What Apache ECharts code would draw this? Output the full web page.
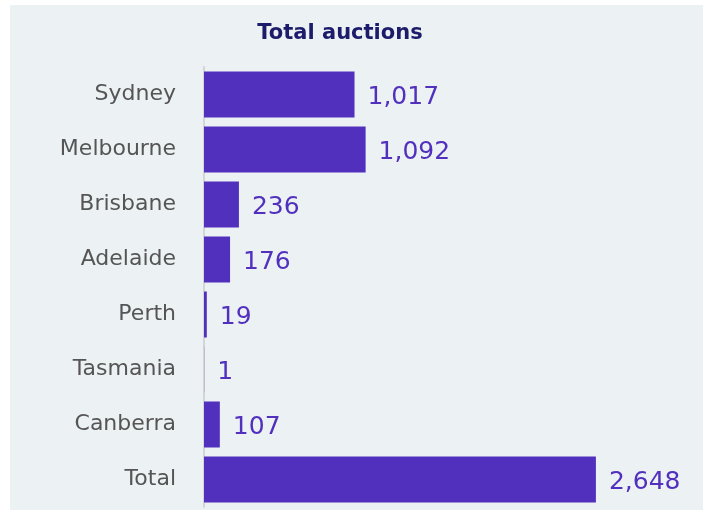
<!DOCTYPE html>
<html>
<head>
<meta charset="utf-8">
<script src="https://cdn.jsdelivr.net/npm/echarts@6/dist/echarts.min.js"></script>
<style>
  html, body { margin: 0; padding: 0; background: #ffffff; }
  #chart { width: 710px; height: 510px; }
</style>
</head>
<body>
<div id="chart"></div>
<script>
// data
const cities = ['Sydney', 'Melbourne', 'Brisbane', 'Adelaide', 'Perth', 'Tasmania', 'Canberra', 'Total'];
const auctions = [1017, 1092, 236, 176, 19, 1, 107, 2648];

const chart = echarts.init(document.getElementById('chart'));

const option = {
    backgroundColor: '#ffffff',
    animation: false,
    graphic: [{
        type: 'rect',
        z: -10,
        shape: { x: 10, y: 5, width: 693, height: 505 },
        style: { fill: '#ecf1f4' }
    }],
    title: {
        text: 'Total auctions',
        left: 335,
        top: 18,
        textAlign: 'center',
        textStyle: {
            fontFamily: 'DejaVu Sans',
            fontSize: 21,
            fontWeight: 'bold',
            color: '#1d1c6b'
        }
    },
    grid: {
        left: 204,
        width: 444,
        top: 67,
        height: 440
    },
    xAxis: {
        type: 'value',
        min: 0,
        max: 3000,
        show: false
    },
    yAxis: {
        type: 'category',
        data: cities,
        inverse: true,
        axisLine: { show: true, lineStyle: { color: '#d3d6d9', width: 2 } },
        axisTick: { show: false },
        axisLabel: {
            margin: 28,
            fontFamily: 'DejaVu Sans',
            fontSize: 22,
            color: '#555555'
        }
    },
    series: [{
        type: 'bar',
        data: auctions,
        barWidth: 46,
        itemStyle: { color: '#5230be' },
        label: {
            show: true,
            position: 'right',
            distance: 13,
            offset: [0, 3],
            fontFamily: 'DejaVu Sans',
            fontSize: 25,
            color: '#5230be',
            formatter: function (p) {
                return p.value.toLocaleString('en-US');
            }
        }
    }]
};

chart.setOption(option);
</script>
</body>
</html>
